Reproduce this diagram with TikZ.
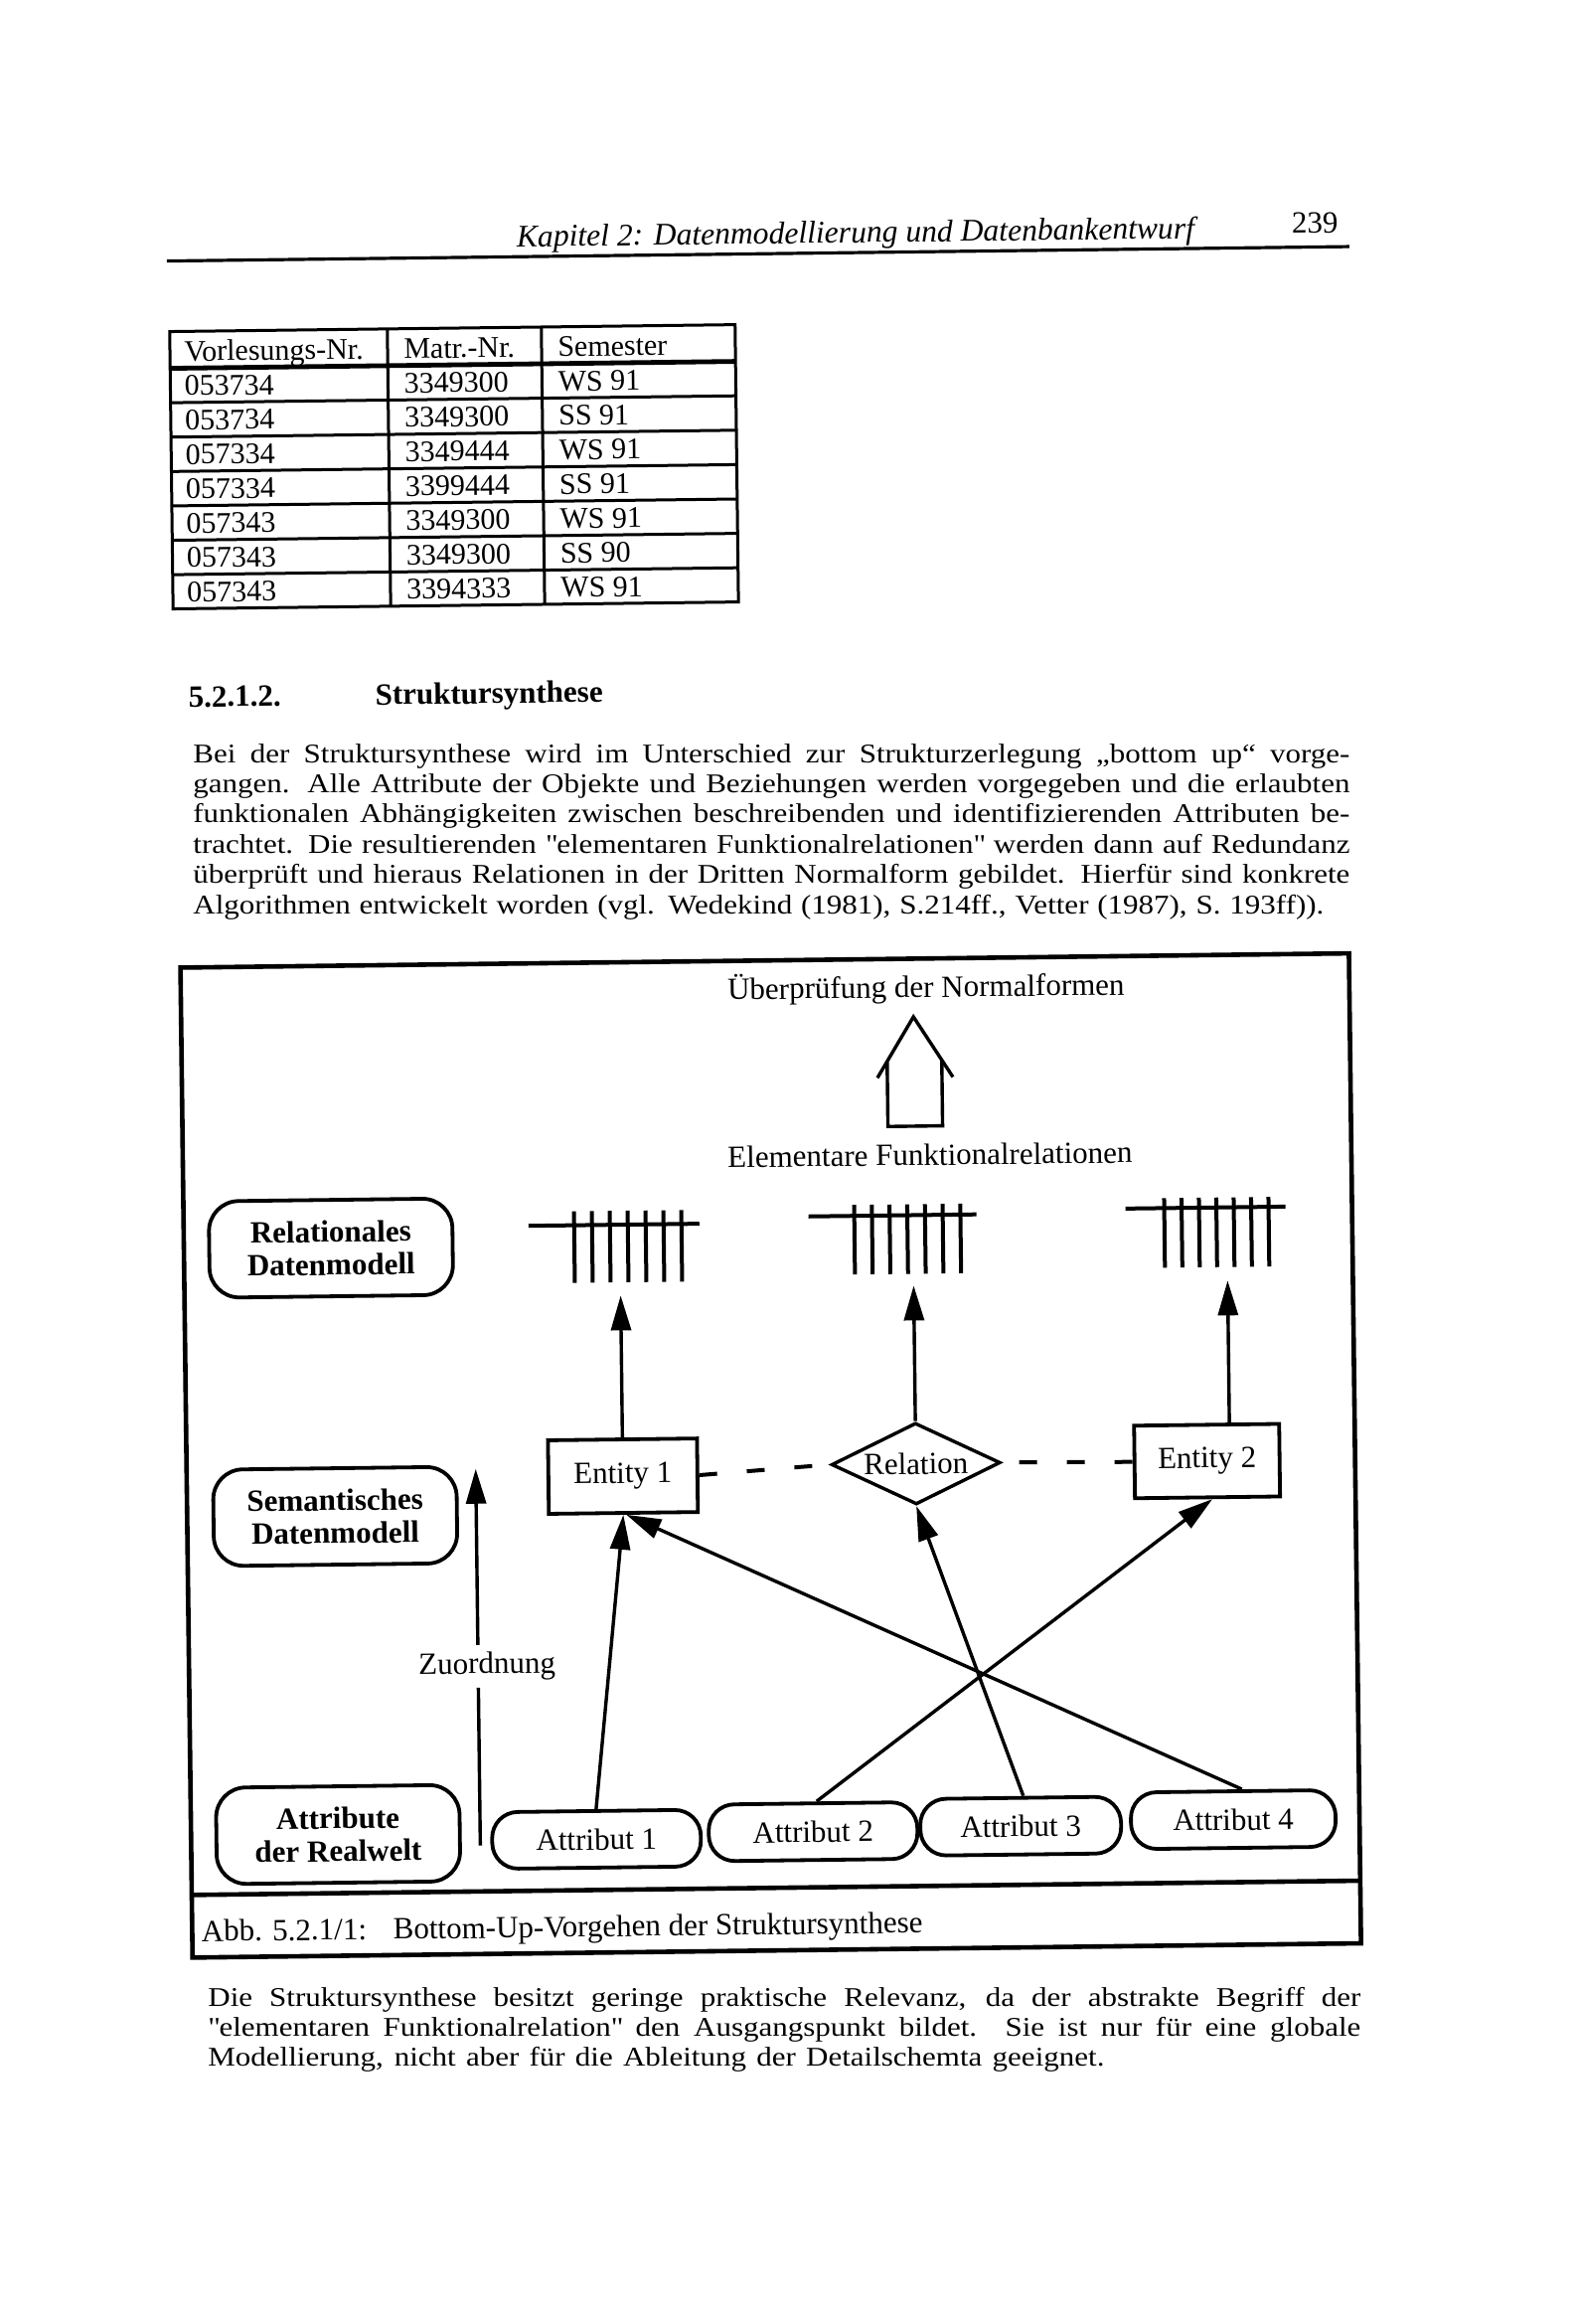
\documentclass[tikz,border=0pt]{standalone}
\usepackage{fontspec}
\setmainfont{Liberation Serif}
\usetikzlibrary{arrows.meta,shapes.geometric}
\newcommand\bfont{\fontsize{15.5}{16.5}\selectfont}
\newcommand\pfont{\fontsize{13.6}{15}\selectfont\addfontfeature{FakeStretch=1.14}}
\newcommand\jline[1]{\makebox[582pt][s]{#1}}
\newcommand\kline[1]{\makebox[580pt][s]{#1}}
\newcommand\qd{\textquotedbl}
\tikzset{
  txt/.style={font=\bfont, inner sep=0pt},
  ptxt/.style={font=\pfont, inner sep=0pt, anchor=base west},
  lbl/.style={txt, draw, line width=1.9pt, rounded corners=15pt, minimum width=122.5pt, minimum height=48.5pt, align=center, font=\bfont\bfseries},
  ebox/.style={txt, draw, line width=1.9pt, minimum width=75pt, minimum height=37pt},
  abox/.style={txt, draw, line width=1.9pt, rounded corners=13pt, minimum height=28.5pt},
  rel/.style={txt, draw, diamond, aspect=2.07, line width=1.7pt, minimum width=85pt, minimum height=41pt},
  conn/.style={line width=1.7pt},
  arr/.style={conn, -{Triangle[length=17.5pt,width=10pt]}},
  dsh/.style={line width=2pt, dash pattern=on 9pt off 15pt},
  bar/.style={line width=2pt},
  tline/.style={line width=1.5pt},
  frm/.style={line width=2.3pt},
  slot/.style={inner sep=0pt, minimum height=35pt},
  cell/.style={font=\fontsize{15}{16}\selectfont, inner sep=0pt, anchor=base west}
}
\begin{document}
\begin{tikzpicture}[x=0.5pt,y=-0.5pt]
\useasboundingbox (0,0) rectangle (1587,2338);
\fill[white] (0,0) rectangle (1587,2338);
% ---------- body text (set level)
\node[ptxt] (p1) at (194,767) {\jline{Bei der Struktursynthese wird im Unterschied zur Strukturzerlegung „bottom up“ vorge-}};
\node[ptxt] (p2) at (194,797.4) {\jline{gangen. Alle Attribute der Objekte und Beziehungen werden vorgegeben und die erlaubten}};
\node[ptxt] (p3) at (194,827.8) {\jline{funktionalen Abhängigkeiten zwischen beschreibenden und identifizierenden Attributen be-}};
\node[ptxt] (p4) at (194,858.2) {\jline{trachtet. Die resultierenden \qd elementaren Funktionalrelationen\qd{} werden dann auf Redundanz}};
\node[ptxt] (p5) at (194,888.6) {\jline{überprüft und hieraus Relationen in der Dritten Normalform gebildet. Hierfür sind konkrete}};
\node[ptxt] (p6) at (194,919) {\makebox[569pt][s]{Algorithmen entwickelt worden (vgl. Wedekind (1981), S.214ff., Vetter (1987), S. 193ff)).}};
\node[ptxt] (q1) at (209,2018) {\kline{Die Struktursynthese besitzt geringe praktische Relevanz, da der abstrakte Begriff der}};
\node[ptxt] (q2) at (209,2048) {\kline{\qd elementaren Funktionalrelation\qd{} den Ausgangspunkt bildet. Sie ist nur für eine globale}};
\node[ptxt] (q3) at (209,2078) {\makebox[451pt][s]{Modellierung, nicht aber für die Ableitung der Detailschemta geeignet.}};
\begin{scope}[rotate around={0.7:(793,1169)}, transform shape]
% ---------- header
\node[txt, anchor=base west, font=\fontsize{15.8}{17}\selectfont\itshape] (kap) at (531,245) {Kapitel 2: Datenmodellierung und Datenbankentwurf};
\node[txt, anchor=base west] (pg) at (1311,241) {239};
\draw[line width=1.6pt] (179,255) -- (1369,255);
% ---------- table
\draw[tline] (181,326) rectangle (750,605);
\draw[line width=2.4pt] (181,363) -- (750,363);
\foreach \k in {1,...,6} \draw[tline] (181,{363+34.6*\k}) -- (750,{363+34.6*\k});
\draw[tline] (400,326) -- (400,605);
\draw[tline] (555,326) -- (555,605);
\node[cell] (h1) at (195,356) {Vorlesungs-Nr.};
\node[cell] (h2) at (416,356) {Matr.-Nr.};
\node[cell] (h3) at (571,356) {Semester};
\foreach \a/\b/\c [count=\i] in {053734/3349300/WS 91, 053734/3349300/SS 91, 057334/3349444/WS 91, 057334/3399444/SS 91, 057343/3349300/WS 91, 057343/3349300/SS 90, 057343/3394333/WS 91} {
  \node[cell] (ra\i) at (195,{363+34.6*\i-7}) {\a};
  \node[cell] (rb\i) at (416,{363+34.6*\i-7}) {\b};
  \node[cell] (rc\i) at (571,{363+34.6*\i-7}) {\c};
}
% ---------- section
\node[txt, anchor=base west, font=\bfont\bfseries] (secn) at (195,704) {5.2.1.2.};
\node[txt, anchor=base west, font=\bfont\bfseries] (sect) at (383,704) {Struktursynthese};
% ---------- diagram frame
\draw[frm] (184,966) rectangle (1360,1962);
\draw[frm] (184,1899) -- (1360,1899);
\node[txt, anchor=base west] (cap1) at (193,1946) {Abb. 5.2.1/1:};
\node[txt, anchor=base west] (cap2) at (386,1946) {Bottom-Up-Vorgehen der Struktursynthese};
% top texts and hollow arrow
\node[txt, anchor=base] (nf) at (934,1005) {Überprüfung der Normalformen};
\node[txt, anchor=base] (efr) at (936,1174) {Elementare Funktionalrelationen};
\draw[line width=1.7pt, line join=miter] (884,1085.5) -- (921,1024.5) -- (960,1085.5);
\draw[line width=1.7pt, line join=miter] (894,1069) -- (894,1134.5) -- (949,1134.5) -- (949,1068.3);
% left level labels
\node[lbl] (rdm) at (332,1250) {Relationales\\Datenmodell};
\node[lbl] (sdm) at (333,1520) {Semantisches\\Datenmodell};
\node[lbl] (arw) at (332,1840) {Attribute\\der Realwelt};
% relation symbols
\draw[bar] (531,1230) -- (703,1230);
\foreach \k in {0,...,6} \draw[bar] ({577+18*\k},1216) -- ({577+18*\k},1288);
\node[slot, minimum width=86pt, minimum height=36pt] (T1) at (617,1252) {};
\draw[bar] (813,1224) -- (982,1224);
\foreach \k in {0,...,6} \draw[bar] ({859+17.8*\k},1213) -- ({859+17.8*\k},1283);
\node[slot, minimum width=84.5pt] (T2) at (897.5,1248) {};
\draw[bar] (1132,1220) -- (1293,1220);
\foreach \k in {0,...,6} \draw[bar] ({1171+17.5*\k},1210) -- ({1171+17.5*\k},1280);
\node[slot, minimum width=80.5pt] (T3) at (1212.5,1245) {};
% entities and relation
\node[ebox] (E1) at (623,1483) {Entity 1};
\node[rel] (R) at (918,1474) {Relation};
\node[ebox, minimum width=73pt, minimum height=36.5pt] (E2) at (1211,1475) {Entity 2};
\draw[dsh] (E1.east) -- (R.west);
\draw[dsh] (E2.west) -- (R.east);
\draw[arr, shorten >=6.5pt] (E1.north) -- (E1.north |- T1.south);
\draw[arr, shorten >=5.8pt] (R.north) -- (R.north |- T2.south);
\draw[arr, shorten >=6.7pt] ([xshift=11.5pt]E2.north) -- ([xshift=11.5pt]E2.north |- T3.south);
% attributes
\node[abox, minimum width=105pt] (A1) at (592,1848) {Attribut 1};
\node[abox, minimum width=105pt] (A2) at (810,1843) {Attribut 2};
\node[abox, minimum width=101pt] (A3) at (1019,1840) {Attribut 3};
\node[abox, minimum width=103pt] (A4) at (1233,1836) {Attribut 4};
\draw[arr] (A1.north) -- (E1.south);
\draw[arr] ([xshift=4.5pt]A4.north) -- ([xshift=1.5pt]E1.south);
\draw[arr] ([xshift=2pt]A2.north) -- ([xshift=2.5pt]E2.south);
\draw[arr] ([xshift=1.5pt]A3.north) -- (R.south);
% Zuordnung
\coordinate (zt) at (475,1474);
\coordinate (zb) at (475,1853);
\node[txt, anchor=base, inner sep=3.5pt] (zu) at (484,1680) {Zuordnung};
\draw[conn] (zb) -- (zb |- zu.south);
\draw[arr] (zt |- zu.north) -- (zt);
\end{scope}
\end{tikzpicture}
\end{document}
